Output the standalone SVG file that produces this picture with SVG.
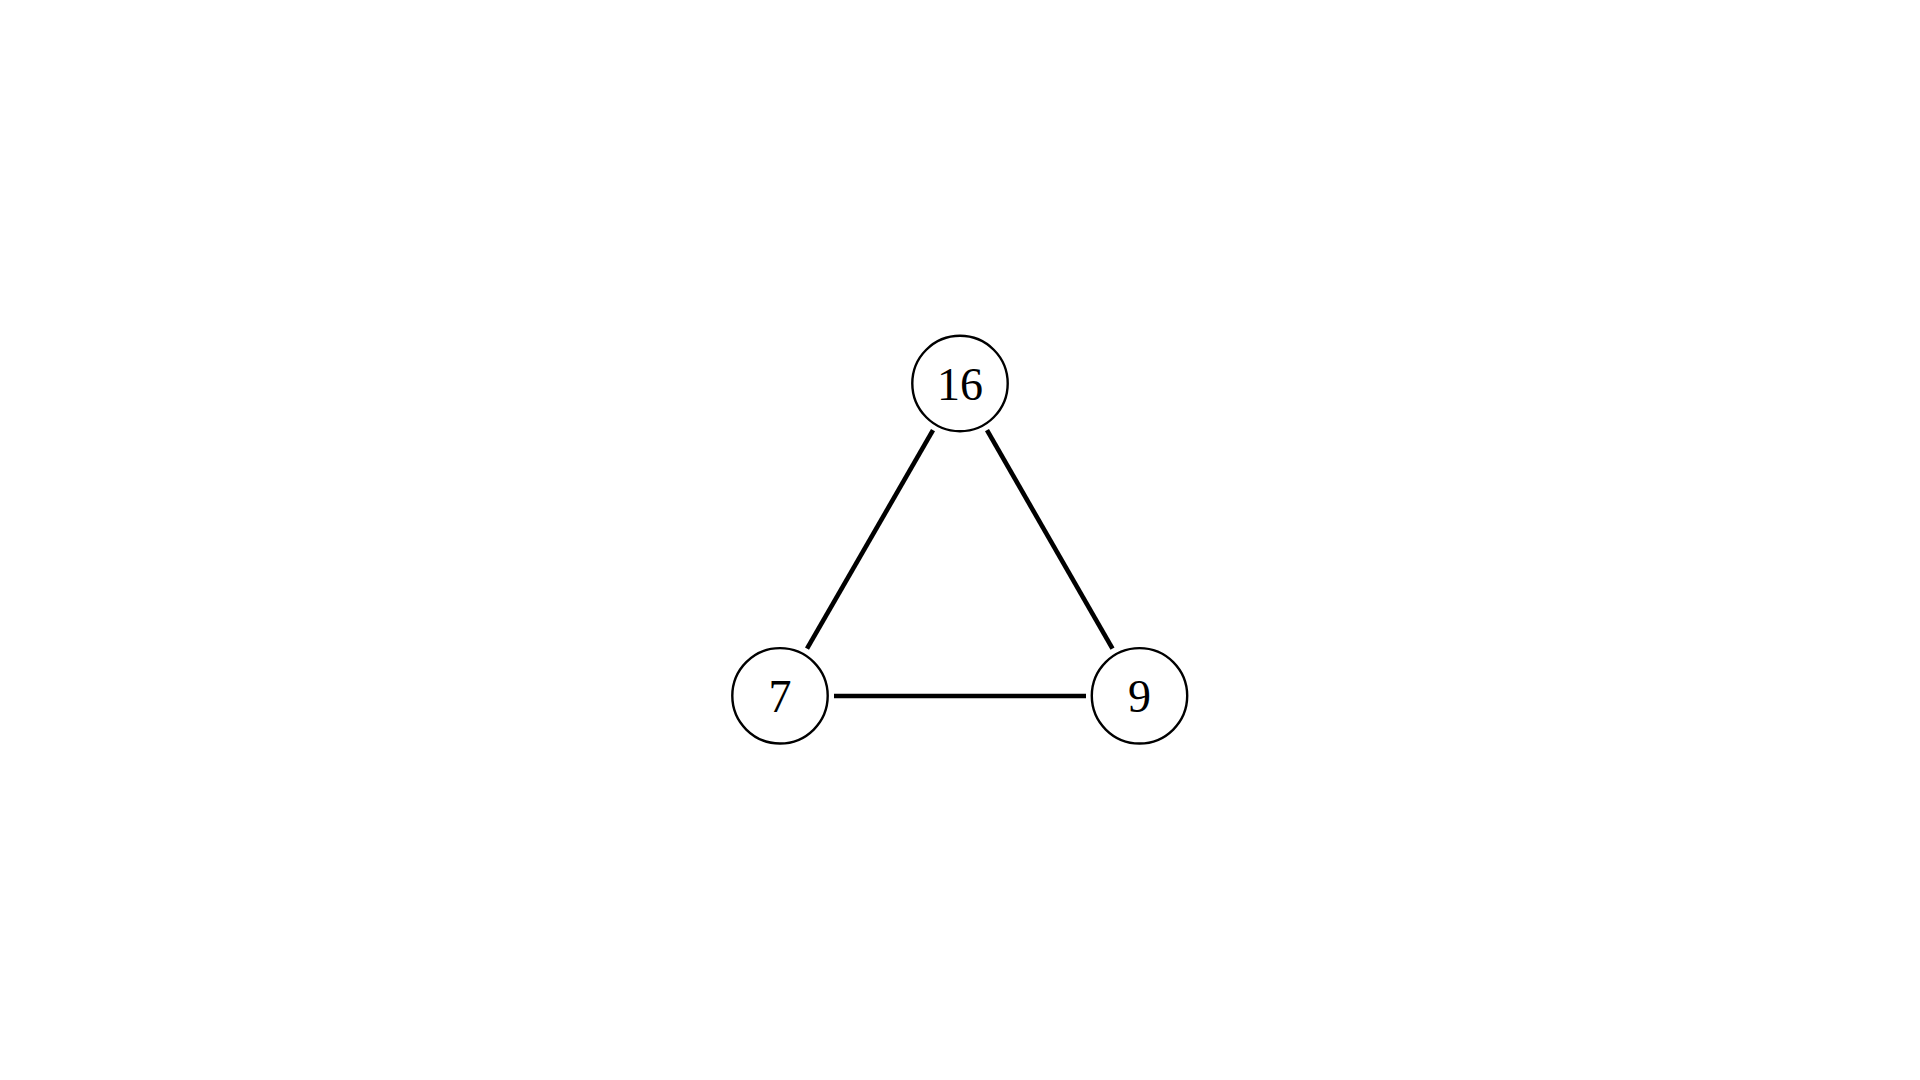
<svg xmlns="http://www.w3.org/2000/svg" width="1920" height="1080" viewBox="0 0 1920 1080">
<style>
.node circle{fill:#fff;stroke:#000;stroke-width:2.4}
.node text{font-family:"Liberation Serif","DejaVu Serif",serif;font-size:46px;fill:#000;text-anchor:middle}
.edge{stroke:#000;stroke-width:4.6;fill:none;stroke-linecap:butt}
</style>
<rect width="1920" height="1080" fill="#fff"/>
<g id="connectors">
<line class="edge" x1="933" y1="430.2" x2="807" y2="648.7"/>
<line class="edge" x1="987" y1="430.2" x2="1112.5" y2="648.7"/>
<line class="edge" x1="834" y1="696" x2="1086" y2="696"/>
</g>
<g id="node-16" class="node"><circle cx="960" cy="383.5" r="47.7"/><text x="960" y="399.5">16</text></g>
<g id="node-7" class="node"><circle cx="780" cy="695.8" r="47.7"/><text x="780" y="711.5">7</text></g>
<g id="node-9" class="node"><circle cx="1139.5" cy="695.8" r="47.7"/><text x="1139.5" y="711.5">9</text></g>
</svg>
